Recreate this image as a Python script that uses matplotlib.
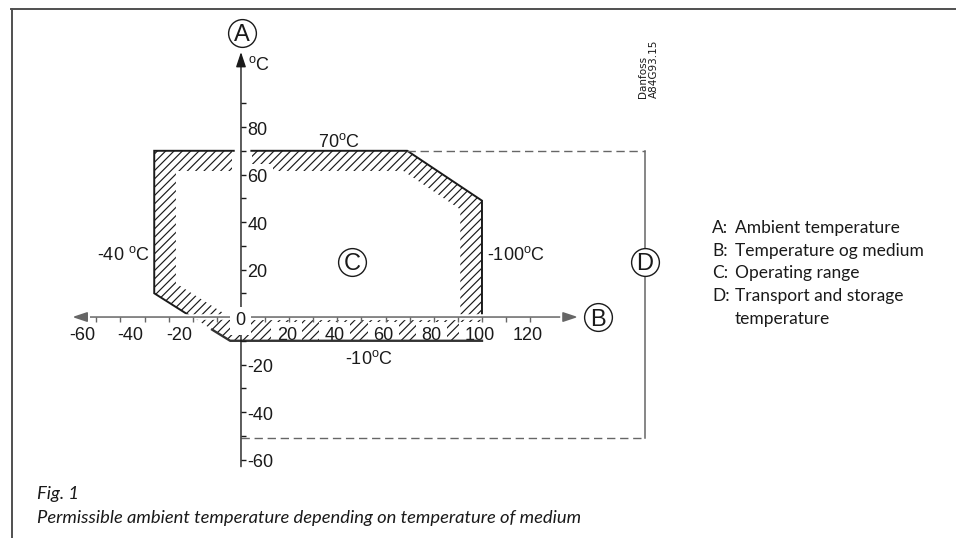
import numpy as np
import matplotlib
matplotlib.use("Agg")
import matplotlib.pyplot as plt
from matplotlib.path import Path
from matplotlib.patches import PathPatch, Rectangle
from matplotlib.lines import Line2D
import matplotlib.patheffects as pe

plt.rcParams['font.family'] = ['Liberation Sans', 'DejaVu Sans']
plt.rcParams['mathtext.fontset'] = 'custom'
plt.rcParams['mathtext.rm'] = 'Liberation Sans'
plt.rcParams['mathtext.it'] = 'Liberation Sans:italic'
plt.rcParams['hatch.linewidth'] = 0.85

# --- operating range C (deg C, medium on x / ambient on y) ---
outer_x = [-36, 69, 100, 100, -4.5, -36]
outer_y = [70, 70, 49, -10, -10, 10]
inner_x = [-27, 67.4, 91, 91, -2.6, -27]
inner_y = [61.5, 61.5, 45.3, -1.3, -1.3, 14.2]

# solid contour pieces (broken at the axes)
edge_left_x, edge_left_y = [-3, -36, -36, -22], [70, 70, 10, 1]
edge_right_x, edge_right_y = [4.3, 69, 100, 100], [70, 70, 49, 1]
edge_low_x, edge_low_y = [-12, -4.5, 100], [-5.3, -10, -10]
top_gap = (-3.6, 4.6)

# --- transport and storage D ---
store_xmax = 167.5
store_ymax = 70
store_ymin = -51

# --- axes ---
x_ticks = [t for t in range(-60, 121, 10) if t != 0]
y_ticks = [t for t in range(-60, 91, 10) if t != 0]
x_labels = [-60, -40, -20, 20, 40, 60, 80, 100, 120]
y_labels = [80, 60, 40, 20, -20, -40, -60]
x_axis = (-70, 139.8)
y_axis = (-63, 111.6)

legend_keys = ["A:", "B:", "C:", "D:"]
legend_text = ["Ambient temperature", "Temperature og medium",
               "Operating range", "Transport and storage\ntemperature"]

fig = plt.figure(figsize=(9.56, 5.38), dpi=100)
ax = fig.add_axes([0, 0, 1, 1])
ax.set_xlim(-100, 296.7)
ax.set_ylim(-93.05, 133.5)
ax.axis('off')

ink = '#1a1a1a'
grey = '#666666'

# frame of the page
fig.add_artist(Line2D([11 / 956, 1], [1 - 9 / 538] * 2, color='#505050', lw=1.4))
fig.add_artist(Line2D([11.5 / 956] * 2, [0, 1 - 9 / 538], color='#505050', lw=1.4))

# hatched band
verts = list(zip(outer_x, outer_y)) + [(outer_x[0], outer_y[0])]
verts += list(zip(inner_x[::-1], inner_y[::-1])) + [(inner_x[-1], inner_y[-1])]
codes = ([Path.MOVETO] + [Path.LINETO] * (len(outer_x) - 1) + [Path.CLOSEPOLY]
         + [Path.MOVETO] + [Path.LINETO] * (len(inner_x) - 1) + [Path.CLOSEPOLY])
ax.add_patch(PathPatch(Path(verts, codes), facecolor='none', edgecolor=ink,
                       lw=0, hatch='////', zorder=1))
ax.add_patch(Rectangle((top_gap[0], inner_y[0] - 0.5), top_gap[1] - top_gap[0],
                       outer_y[0] - inner_y[0] + 1, fc='white', ec='none', zorder=1.5))

ax.plot(edge_left_x, edge_left_y, color=ink, lw=1.4, zorder=4, solid_joinstyle='miter')
ax.plot(edge_right_x, edge_right_y, color=ink, lw=1.4, zorder=4, solid_joinstyle='miter')
ax.plot(edge_low_x, edge_low_y, color='#333333', lw=1.7, zorder=4)

# storage range, dashed
dash = (0, (6, 3.4))
ax.plot([edge_right_x[1], store_xmax], [store_ymax, store_ymax], color=grey, lw=1.0, ls=dash, zorder=4)
ax.plot([0, store_xmax], [store_ymin, store_ymin], color=grey, lw=1.0, ls=dash, zorder=4)
ax.plot([store_xmax, store_xmax], [store_ymax, store_ymin], color=grey, lw=1.1, zorder=4)

# axes with arrows
white = [pe.Stroke(linewidth=4, foreground='white'), pe.Normal()]
xa = ax.annotate('', xy=(x_axis[1], 0), xytext=(x_axis[0], 0), zorder=4,
                 arrowprops=dict(arrowstyle='<|-|>,head_length=0.9,head_width=0.3',
                                 color=grey, lw=1.1, shrinkA=0, shrinkB=0))
xa.arrow_patch.set_path_effects(white)
ax.annotate('', xy=(0, y_axis[1]), xytext=(0, y_axis[0]), zorder=4,
            arrowprops=dict(arrowstyle='-|>,head_length=0.9,head_width=0.3',
                            color=ink, lw=1.0, shrinkA=0, shrinkB=0))
ax.vlines(x_ticks, -2.1, 0, color=grey, lw=1.0, zorder=4)
ax.hlines(y_ticks, 0, 2.2, color=ink, lw=1.0, zorder=4)

box = dict(boxstyle='square,pad=0.3', fc='white', ec='none')
for v in x_labels:
    if v < 0:
        ax.text(v - 0.4, -9.7, str(v), ha='right', va='baseline', fontsize=13, color=ink, zorder=3)
    else:
        ax.text(v - 1.0, -9.7, str(v), ha='center', va='baseline', fontsize=13,
                color=ink, zorder=3, bbox=box)
for v in y_labels:
    ax.text(2.6, v - 3.2, str(v), ha='left', va='baseline', fontsize=13, color=ink,
            zorder=3, bbox=box)
ax.text(-0.4, -3.4, '0', ha='center', va='baseline', fontsize=13, color=ink, zorder=6,
        bbox=dict(boxstyle='square,pad=0.3', fc='white', ec='none'))
ax.text(2.9, 104, r'$^{\rm o}$C', ha='left', va='baseline', fontsize=13, color=ink)

# limit labels
ax.text(32, 71.6, r'70$^{\rm o}$C', ha='left', va='baseline', fontsize=13, color=ink)
ax.text(-37.8, 24, r'-40 $^{\rm o}$C', ha='right', va='baseline', fontsize=13, color=ink)
ax.text(102, 24, r'-100$^{\rm o}$C', ha='left', va='baseline', fontsize=13, color=ink)
ax.text(43.2, -19.8, r'-10$^{\rm o}$C', ha='left', va='baseline', fontsize=13, color=ink)


def circled(x, y, letter):
    ax.plot([x], [y], 'o', ms=20, mfc='white', mec=ink, mew=1.0, zorder=7)
    ax.annotate(letter, (x, y), xytext=(0, -6.1), textcoords='offset points',
                ha='center', va='baseline', fontsize=17, color=ink, zorder=8)


circled(0.4, 119.6, 'A')
circled(148, 0, 'B')
circled(46, 23.2, 'C')
circled(store_xmax, 23.2, 'D')

ax.text(169.1, 92.2, 'Danfoss\nA84G93.15', rotation=90, ha='center', va='bottom',
        multialignment='left', linespacing=1.0, fontsize=7.5, color=ink,
        family='DejaVu Sans')

# legend
row = 0
for key, txt in zip(legend_keys, legend_text):
    ax.text(195.4, 35.4 - row * 9.56, key, ha='left', va='baseline', fontsize=12.5,
            family='Lato', color=ink)
    for line in txt.split('\n'):
        ax.text(204.8, 35.4 - row * 9.56, line, ha='left', va='baseline', fontsize=12.5,
                family='Lato', color=ink)
        row += 1

ax.text(-84.6, -76.6, 'Fig. 1', ha='left', va='baseline', fontsize=13.2,
        family='Lato', style='italic', color=ink)
ax.text(-84.6, -86.7, 'Permissible ambient temperature depending on temperature of medium',
        ha='left', va='baseline', fontsize=13.2, family='Lato', style='italic', color=ink)

fig.savefig('out.png', dpi=100)
